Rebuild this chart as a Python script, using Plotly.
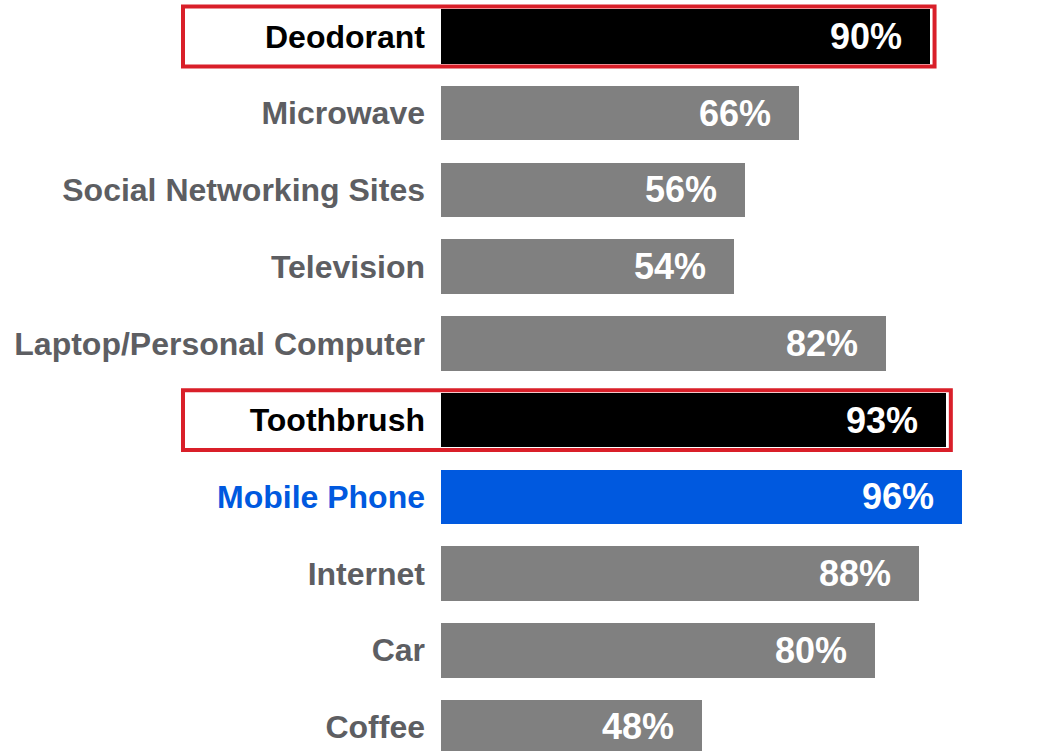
import plotly.graph_objects as go

# Share of people who say they could not live without each item
items = ["Deodorant", "Microwave", "Social Networking Sites", "Television",
         "Laptop/Personal Computer", "Toothbrush", "Mobile Phone", "Internet",
         "Car", "Coffee"]
shares = [90, 66, 56, 54, 82, 93, 96, 88, 80, 48]
highlighted = ["Deodorant", "Toothbrush"]
featured = "Mobile Phone"

GRAY_BAR = "#808080"
GRAY_TEXT = "#5d5e62"
BLUE = "#0059df"
RED = "#d91f29"
FONT = "Liberation Sans, Arial, sans-serif"

W, H = 1043, 751
LEFT = 441
plot_w = W - LEFT
X_MAX = 110.9  # axis span in percent across the plot width

pos = list(range(len(items)))
bar_colors = []
tick_text = []
for name in items:
    if name in highlighted:
        bar_colors.append("#000000")
        color = "#000000"
    elif name == featured:
        bar_colors.append(BLUE)
        color = BLUE
    else:
        bar_colors.append(GRAY_BAR)
        color = GRAY_TEXT
    tick_text.append(f"<span style='color:{color}'><b>{name}</b></span>")

fig = go.Figure(go.Bar(
    x=shares, y=pos, orientation="h",
    marker=dict(color=bar_colors, line=dict(width=0)),
    width=0.71, hoverinfo="skip",
))

# value labels, just inside the end of each bar
for p, v in zip(pos, shares):
    fig.add_annotation(
        x=v, y=p, xref="x", yref="y", text=f"<b>{v}%</b>",
        showarrow=False, xanchor="right", yanchor="middle", xshift=-26,
        font=dict(family=FONT, size=36, color="white"),
    )

# red outline around the highlighted rows (label + bar)
for p, (name, v) in enumerate(zip(items, shares)):
    if name in highlighted:
        fig.add_shape(
            type="rect", xref="paper", yref="y",
            x0=(183 - LEFT) / plot_w, x1=v / X_MAX + 5 / plot_w,
            y0=p - 0.39, y1=p + 0.39,
            line=dict(color=RED, width=4), fillcolor="rgba(0,0,0,0)",
            layer="above",
        )

fig.update_layout(
    width=W, height=H,
    margin=dict(l=LEFT, r=0, t=0, b=0),
    paper_bgcolor="white", plot_bgcolor="white",
    showlegend=False, bargap=0,
    font=dict(family=FONT),
    xaxis=dict(range=[0, X_MAX], visible=False, fixedrange=True),
    yaxis=dict(
        range=[9.313, -0.476], tickmode="array", tickvals=pos,
        ticktext=tick_text, ticks="", showgrid=False, zeroline=False,
        showline=False, ticklabelstandoff=15,
        tickfont=dict(family=FONT, size=32, color=GRAY_TEXT),
        fixedrange=True,
    ),
)

fig.write_html("out.html", config={"displayModeBar": False})
